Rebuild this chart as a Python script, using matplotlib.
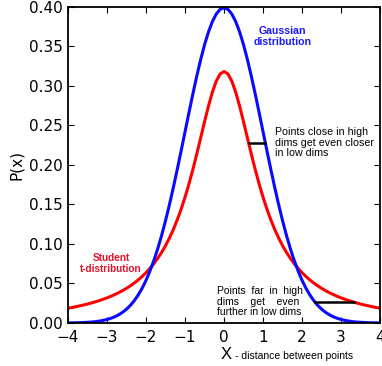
import matplotlib.pyplot as plt
from matplotlib.ticker import FormatStrFormatter

# half-axis sample points (both curves are symmetric about 0)
x_half = [0.0, 0.1, 0.2, 0.3, 0.4, 0.5, 0.6, 0.7, 0.8, 0.9,
          1.0, 1.1, 1.2, 1.3, 1.4, 1.5, 1.6, 1.7, 1.8, 1.9,
          2.0, 2.1, 2.2, 2.3, 2.4, 2.5, 2.6, 2.7, 2.8, 2.9,
          3.0, 3.1, 3.2, 3.3, 3.4, 3.5, 3.6, 3.7, 3.8, 3.9, 4.0]
gauss_half = [0.3989, 0.3970, 0.3910, 0.3814, 0.3683, 0.3521, 0.3332, 0.3123, 0.2897, 0.2661,
              0.2420, 0.2179, 0.1942, 0.1714, 0.1497, 0.1295, 0.1109, 0.0940, 0.0790, 0.0656,
              0.0540, 0.0440, 0.0355, 0.0283, 0.0224, 0.0175, 0.0136, 0.0104, 0.0079, 0.0060,
              0.0044, 0.0033, 0.0024, 0.0017, 0.0012, 0.0009, 0.0006, 0.0004, 0.0003, 0.0002, 0.0001]
student_half = [0.3183, 0.3152, 0.3061, 0.2920, 0.2744, 0.2546, 0.2341, 0.2136, 0.1941, 0.1759,
                0.1592, 0.1440, 0.1305, 0.1183, 0.1075, 0.0979, 0.0894, 0.0818, 0.0751, 0.0690,
                0.0637, 0.0588, 0.0545, 0.0506, 0.0471, 0.0439, 0.0410, 0.0384, 0.0360, 0.0338,
                0.0318, 0.0300, 0.0283, 0.0268, 0.0253, 0.0240, 0.0228, 0.0217, 0.0206, 0.0196, 0.0187]

x_vals = [-v for v in x_half[:0:-1]] + x_half
gauss = gauss_half[:0:-1] + gauss_half
student = student_half[:0:-1] + student_half

# black bars linking the two curves
close_seg = ([0.63, 1.05], [0.228, 0.228])
far_seg = ([2.33, 3.33], [0.026, 0.026])

xticks = [-4, -3, -2, -1, 0, 1, 2, 3, 4]
yticks = [0.0, 0.05, 0.10, 0.15, 0.20, 0.25, 0.30, 0.35, 0.40]

fig = plt.figure(figsize=(3.82, 3.66), dpi=100)
ax = fig.add_axes([0.178, 0.1175, 0.817, 0.8635])

ax.plot(x_vals, student, color='#ff0000', lw=2.2)
ax.plot(x_vals, gauss, color='#0a0aff', lw=2.2)
ax.plot(*close_seg, color='black', lw=1.8)
ax.plot(*far_seg, color='black', lw=1.8)

ax.set_xlim(-4, 4)
ax.set_ylim(0, 0.40)
ax.set_xticks(xticks)
ax.set_yticks(yticks)
ax.yaxis.set_major_formatter(FormatStrFormatter('%.2f'))
ax.tick_params(direction='in', top=True, right=True, labelsize=11, length=4)
ax.tick_params(axis='x', pad=5)
for s in ax.spines.values():
    s.set_linewidth(1.3)
ax.set_ylabel('P(x)', fontsize=11)

fnt = 'Liberation Sans'
ax.text(1.5, 0.363, 'Gaussian\ndistribution', color='#1a1aff', fontsize=7.6,
        fontweight='bold', ha='center', va='center', family=fnt, linespacing=1.1)
ax.text(-2.9, 0.075, 'Student\nt-distribution', color='#e8102a', fontsize=7.2,
        fontweight='bold', ha='center', va='center', family=fnt, linespacing=1.1)
ax.text(1.3, 0.228, 'Points close in high\ndims get even closer\nin low dims', fontsize=7.7,
        ha='left', va='center', family=fnt, linespacing=1.05)
ax.text(-0.18, 0.027, 'Points  far  in  high\ndims    get    even\nfurther in low dims', fontsize=7.5,
        ha='left', va='center', family=fnt, linespacing=1.05)

fig.text(0.593, 0.02, 'X', fontsize=12, ha='center', va='baseline', family=fnt)
fig.text(0.615, 0.02, '- distance between points', fontsize=7.5, ha='left',
         va='baseline', family=fnt)

fig.savefig('out.png', dpi=100)
